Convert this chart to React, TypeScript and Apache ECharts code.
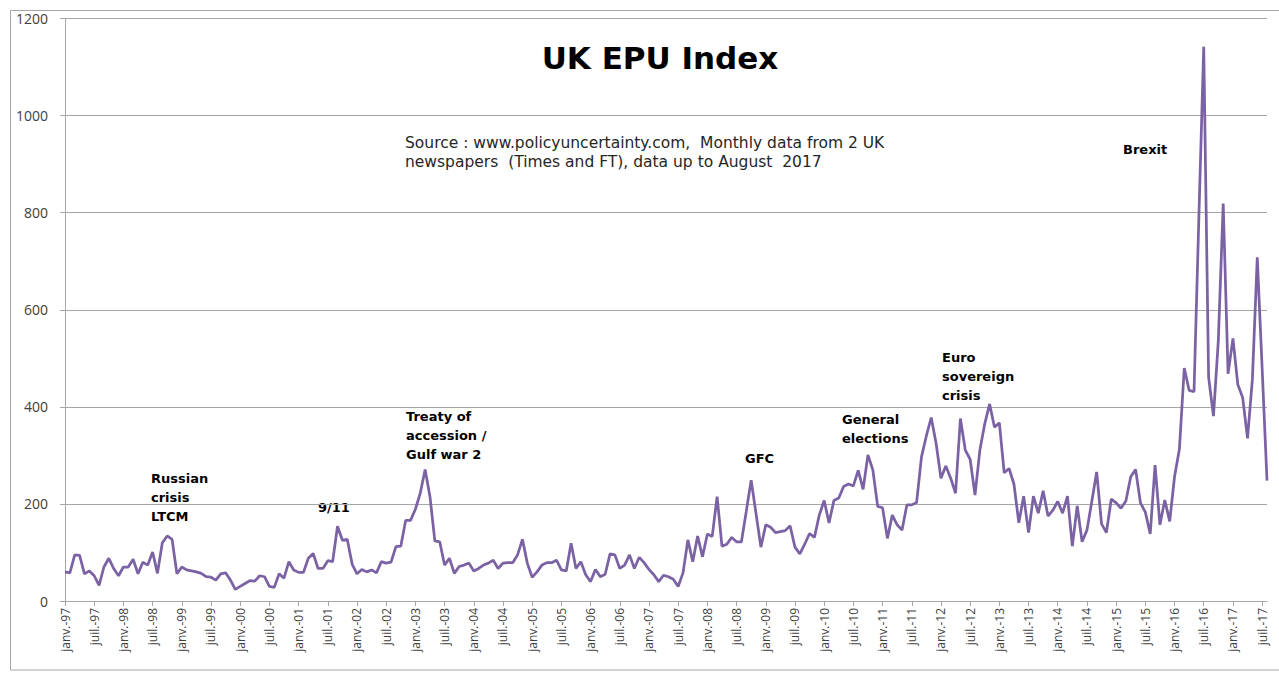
import React, { useEffect, useRef } from "react";
import * as echarts from "echarts";

const monthNames = ["janv.", "févr.", "mars", "avr.", "mai", "juin", "juil.", "août", "sept.", "oct.", "nov.", "déc."];
const years = [97, 98, 99, 0, 1, 2, 3, 4, 5, 6, 7, 8, 9, 10, 11, 12, 13, 14, 15, 16, 17];

const y1997 = [60, 58, 95, 94, 56, 62, 52, 32, 70, 88, 67, 52];
const y1998 = [70, 70, 86, 56, 80, 74, 101, 57, 120, 134, 127, 56];
const y1999 = [70, 64, 62, 60, 57, 50, 49, 43, 56, 58, 43, 24];
const y2000 = [30, 36, 42, 41, 52, 50, 30, 28, 56, 47, 81, 64];
const y2001 = [59, 59, 88, 98, 67, 67, 83, 81, 154, 125, 127, 76];
const y2002 = [56, 65, 60, 64, 58, 81, 78, 80, 112, 113, 166, 166];
const y2003 = [189, 222, 271, 215, 124, 122, 74, 88, 57, 71, 74, 78];
const y2004 = [62, 67, 74, 78, 84, 67, 78, 79, 79, 95, 127, 78];
const y2005 = [49, 60, 74, 79, 79, 84, 64, 62, 119, 67, 81, 54];
const y2006 = [40, 65, 50, 55, 97, 95, 67, 74, 95, 67, 90, 79];
const y2007 = [65, 54, 40, 53, 50, 45, 30, 58, 126, 81, 134, 91];
const y2008 = [138, 133, 215, 113, 117, 131, 122, 122, 185, 249, 180, 111];
const y2009 = [157, 152, 141, 143, 145, 155, 111, 97, 117, 139, 131, 177];
const y2010 = [207, 161, 207, 212, 236, 241, 237, 269, 230, 301, 270, 195];
const y2011 = [192, 129, 177, 157, 146, 198, 198, 203, 297, 340, 378, 325];
const y2012 = [253, 278, 253, 222, 376, 311, 292, 218, 311, 365, 406, 358];
const y2013 = [367, 264, 273, 241, 161, 216, 141, 216, 181, 227, 175, 187];
const y2014 = [205, 181, 216, 113, 196, 122, 146, 205, 266, 159, 141, 210];
const y2015 = [202, 191, 206, 256, 271, 202, 183, 138, 280, 157, 208, 164];
const y2016 = [256, 313, 480, 434, 431, 790, 1142, 461, 381, 537, 819, 468];
const y2017 = [541, 446, 419, 335, 457, 708, 480, 248];

const yTicks = [0, 200, 400, 600, 800, 1000, 1200];

const values = [
  ...y1997, ...y1998, ...y1999, ...y2000, ...y2001, ...y2002, ...y2003,
  ...y2004, ...y2005, ...y2006, ...y2007, ...y2008, ...y2009, ...y2010,
  ...y2011, ...y2012, ...y2013, ...y2014, ...y2015, ...y2016, ...y2017,
];

const categories: string[] = [];
for (const yy of years) {
  for (const m of monthNames) {
    if (categories.length < values.length) {
      categories.push(m + "-" + String(yy).padStart(2, "0"));
    }
  }
}

const annotations = [
  { text: "Russian\ncrisis\nLTCM", x: 151, y: 469 },
  { text: "9/11", x: 318, y: 498 },
  { text: "Treaty of\naccession /\nGulf war 2", x: 406, y: 407 },
  { text: "GFC", x: 745, y: 449 },
  { text: "General\nelections", x: 842, y: 410 },
  { text: "Euro\nsovereign\ncrisis", x: 942, y: 348 },
  { text: "Brexit", x: 1123, y: 140 },
];

export default function App() {
  const ref = useRef<HTMLDivElement>(null);
  useEffect(() => {
    if (!ref.current) return;
    const chart = echarts.init(ref.current, null, { renderer: "svg" });
    const annFont = "DejaVu Sans";
    chart.setOption({
      animation: false,
      backgroundColor: "#ffffff",
      grid: { left: 65, right: 12, top: 18.5, bottom: 72, containLabel: false },
      xAxis: {
        type: "category",
        data: categories,
        boundaryGap: false,
        axisLine: { show: true, lineStyle: { color: "#A6A6A6", width: 1 } },
        axisTick: { show: true, interval: 5, length: 5, lineStyle: { color: "#A6A6A6" } },
        axisLabel: {
          interval: 5,
          rotate: 90,
          margin: 7,
          color: "#404040",
          fontSize: 12,
          fontFamily: "Open Sans",
        },
        splitLine: { show: false },
      },
      yAxis: {
        type: "value",
        min: yTicks[0],
        max: yTicks[yTicks.length - 1],
        interval: 200,
        axisLine: { show: true, lineStyle: { color: "#A6A6A6", width: 1 } },
        axisTick: { show: true, length: 5, lineStyle: { color: "#A6A6A6" } },
        axisLabel: {
          margin: 17,
          color: "#404040",
          fontSize: 14,
          fontFamily: "Open Sans",
          formatter: (v: number) => String(v),
        },
        splitLine: { show: true, lineStyle: { color: "#A6A6A6", width: 1 } },
      },
      series: [
        {
          type: "line",
          data: values,
          symbol: "none",
          smooth: false,
          lineStyle: { color: "#7B62A4", width: 2.75 },
          itemStyle: { color: "#7B62A4" },
        },
      ],
      graphic: [
        {
          type: "rect",
          z: -10,
          shape: { x: 10.5, y: 10.5, width: 1300, height: 659.5 },
          style: { fill: "none", stroke: "#A6A6A6", lineWidth: 1 },
        },
        {
          type: "text",
          x: 660,
          y: 58,
          style: {
            text: "UK EPU Index",
            fontFamily: annFont,
            fontWeight: "bold",
            fontSize: 31,
            fill: "#000000",
            align: "center",
            verticalAlign: "middle",
          },
        },
        {
          type: "text",
          x: 405,
          y: 133,
          style: {
            text: "Source : www.policyuncertainty.com,  Monthly data from 2 UK\nnewspapers  (Times and FT), data up to August  2017",
            fontFamily: "DejaVu Sans",
            fontSize: 15.5,
            lineHeight: 19.5,
            fill: "#262626",
            align: "left",
            verticalAlign: "top",
          },
        },
        ...annotations.map((a) => ({
          type: "text",
          x: a.x,
          y: a.y,
          style: {
            text: a.text,
            fontFamily: annFont,
            fontWeight: "bold",
            fontSize: 13,
            lineHeight: 19,
            fill: "#000000",
            align: "left",
            verticalAlign: "top",
          },
        })),
      ],
    });
    return () => chart.dispose();
  }, []);
  return (
    <div
      ref={ref}
      style={{ position: "absolute", left: 0, top: 0, width: 1279, height: 673 }}
    />
  );
}
